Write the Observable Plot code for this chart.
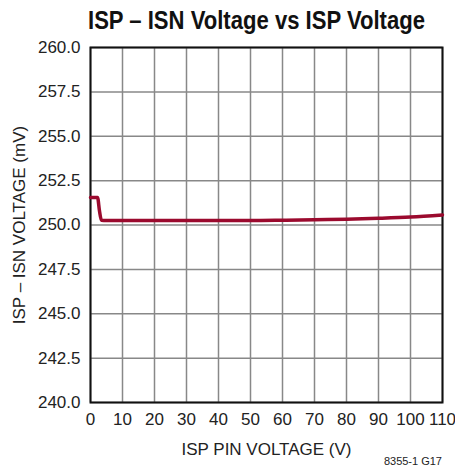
<!DOCTYPE html>
<html><head><meta charset="utf-8">
<script src="https://cdn.jsdelivr.net/npm/d3@7"></script>
<script src="https://cdn.jsdelivr.net/npm/@observablehq/plot@0.6"></script>
<style>
body{margin:0;background:#fff;font-family:"Liberation Sans",sans-serif;}
#wrap{position:relative;width:455px;height:469px;}
#title{position:absolute;left:88px;top:6px;white-space:nowrap;font-weight:bold;font-size:25px;line-height:28px;color:#111;transform-origin:0 0;}
#chart{position:absolute;left:0;top:36px;}
#cap{position:absolute;right:13px;top:455px;font-size:11px;color:#222;}
</style></head>
<body><div id="wrap"><div id="title">ISP – ISN Voltage vs ISP Voltage</div><div id="chart"></div><div id="cap">8355-1 G17</div></div>
<script>
const ispV = [0, 1, 2.2, 2.8, 3.4, 5, 10, 20, 30, 40, 50, 60, 70, 80, 90, 100, 110];
const diffMV = [251.55, 251.55, 251.55, 250.8, 250.27, 250.25, 250.25, 250.25, 250.25, 250.25, 250.25, 250.27, 250.3, 250.33, 250.38, 250.45, 250.57];
const xTicks = [0,10,20,30,40,50,60,70,80,90,100,110];
const yTicks = [240,242.5,245,247.5,250,252.5,255,257.5,260];
const data = ispV.map((v,i)=>({x:v,y:diffMV[i]}));
const chart = Plot.plot({
  width:455, height:433,
  marginLeft:90, marginRight:13, marginTop:11, marginBottom:67,
  style:{fontFamily:'"Liberation Sans",sans-serif', fontSize:"17px", color:"#222", background:"transparent"},
  x:{domain:[0,110], ticks:xTicks, tickSize:0, tickPadding:10, label:"ISP PIN VOLTAGE (V)", labelAnchor:"center", labelArrow:"none", labelOffset:52},
  y:{domain:[240,260], ticks:yTicks, tickSize:0, tickPadding:10, tickFormat:d=>d.toFixed(1), label:"ISP – ISN VOLTAGE (mV)", labelAnchor:"center", labelArrow:"none", labelOffset:78},
  marks:[
    Plot.gridX(xTicks,{stroke:"#888",strokeOpacity:1,strokeWidth:1.5}),
    Plot.gridY(yTicks,{stroke:"#888",strokeOpacity:1,strokeWidth:1.5}),
    Plot.frame({stroke:"#111",strokeWidth:2}),
    Plot.line(data,{x:"x",y:"y",stroke:"#9b0a2e",strokeWidth:3.5,curve:"monotone-x"})
  ]
});
document.getElementById("chart").appendChild(chart);
const t = document.getElementById("title");
const w = t.getBoundingClientRect().width;
t.style.transform = `scaleX(${337 / w})`;
</script></body></html>
